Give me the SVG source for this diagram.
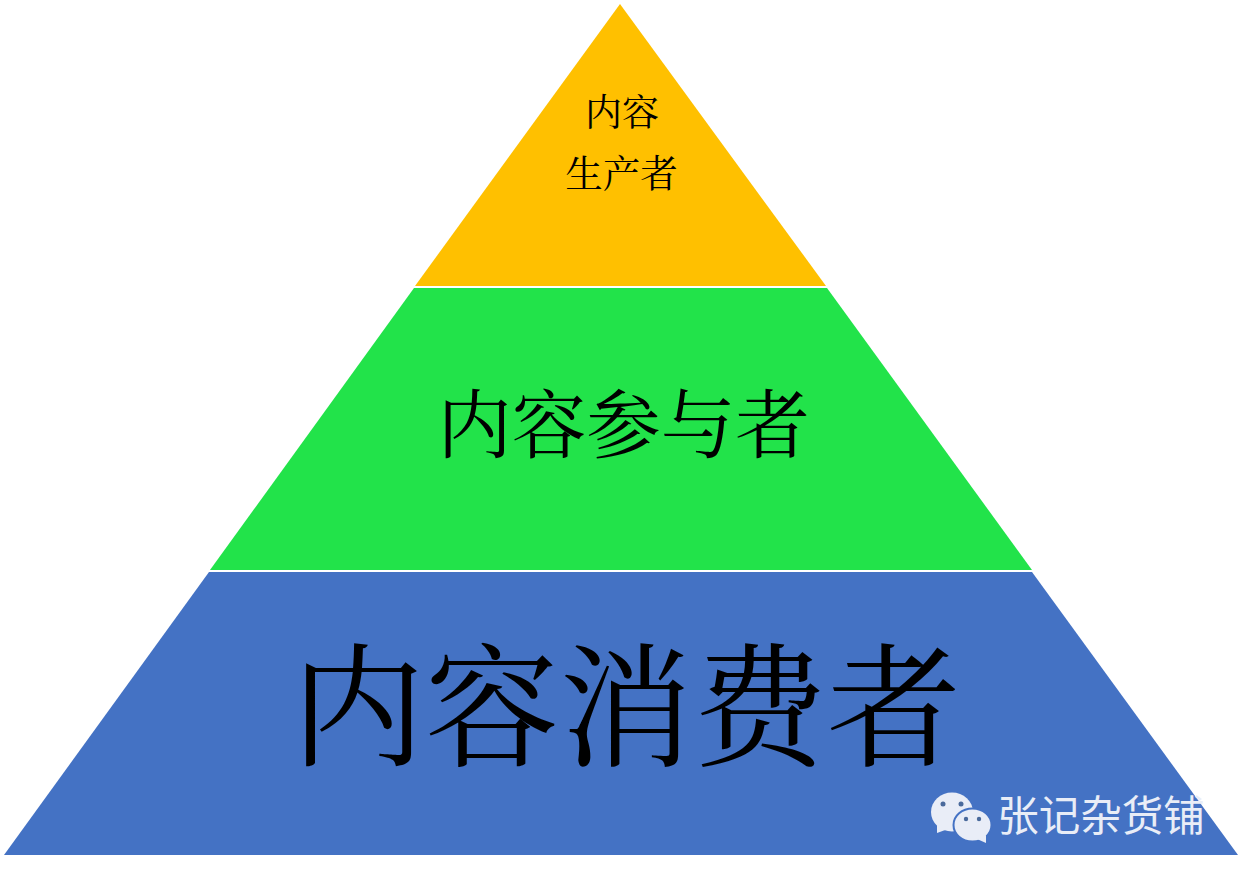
<svg xmlns="http://www.w3.org/2000/svg" width="1242" height="881" viewBox="0 0 1242 881">
<style>
.t{font-family:"Noto Serif CJK SC","Liberation Serif","Noto Sans CJK SC",serif;fill:#000;text-anchor:middle}
.b{fill:#e9edf7}
.d{fill:#4a6a9c}
</style>
<rect width="1242" height="881" fill="#fff"/>
<g id="top"><polygon points="620,4 826,286 415,286" fill="#ffc000"/>
<text class="t" x="622" y="126" font-size="37">内容</text><text class="t" x="621.500" y="187" font-size="37.500">生产者</text></g>
<g id="middle"><polygon points="414,288 827,288 1032,570 210,570" fill="#22e34a"/>
<text class="t" x="623.500" y="452" font-size="74.500">内容参与者</text></g>
<g id="bottom"><polygon points="209,572 1032,572 1238,855 4,855" fill="#4472c4"/>
<text class="t" x="626" y="756" font-size="134">内容消费者</text></g>
<g id="watermark">
<ellipse class="b" cx="952" cy="812" rx="21" ry="19.500"/>
<polygon class="b" points="937,824 937,833 948,829"/>
<circle class="d" cx="943" cy="804" r="2.500"/><circle class="d" cx="961" cy="804" r="2.500"/>
<ellipse class="b" cx="972.500" cy="825" rx="19" ry="16.500" stroke="#4472c4" stroke-width="2"/>
<polygon class="b" points="977,839 986,843 986,835"/>
<circle class="d" cx="966" cy="819" r="2.200"/><circle class="d" cx="979" cy="819" r="2.200"/>
<text x="1101" y="831" font-size="41.500" text-anchor="middle" fill="#e9edf7" font-family="Noto Sans CJK SC,sans-serif">张记杂货铺</text>
</g>
<g id="connectors"/>
</svg>
